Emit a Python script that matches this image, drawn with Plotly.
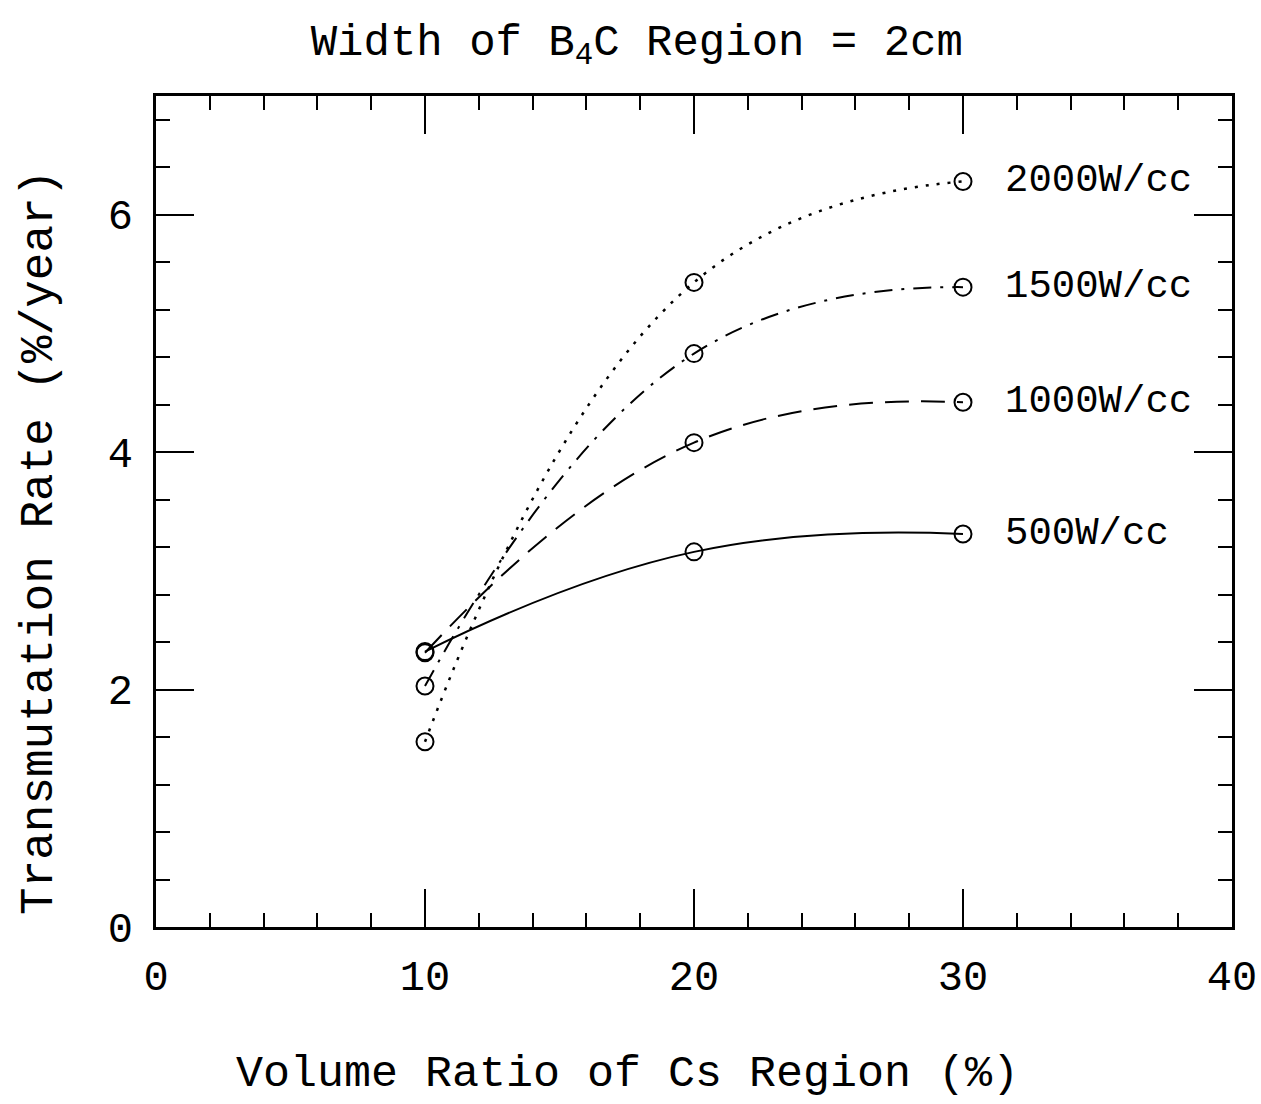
import plotly.graph_objects as go

# Volume ratio of the Cs region (%)
volume_ratio = [10, 20, 30]

# Transmutation rate (%/year) for each power density
rate_500 = [2.32, 3.16, 3.31]
rate_1000 = [2.31, 4.08, 4.42]
rate_1500 = [2.03, 4.83, 5.39]
rate_2000 = [1.56, 5.43, 6.28]

series_labels = ["2000W/cc", "1500W/cc", "1000W/cc", "500W/cc"]
series_values = [rate_2000, rate_1500, rate_1000, rate_500]
series_dash = ["3px,8px", "18px,9px,3px,9px", "24px,12px", "solid"]
series_width = [2.5, 2, 2, 2]

x_ticks = [0, 10, 20, 30, 40]
y_ticks = [0, 2, 4, 6]

FONT = "Liberation Mono"
INK = "black"

fig = go.Figure()

for label, values, dash, lw in zip(series_labels, series_values, series_dash, series_width):
    fig.add_trace(go.Scatter(
        x=volume_ratio, y=values, name=label,
        mode="lines+markers",
        line=dict(color=INK, width=lw, dash=dash, shape="spline", smoothing=1.3),
        marker=dict(symbol="circle-open", size=17, color=INK, line=dict(width=2, color=INK)),
        showlegend=False,
    ))
    fig.add_annotation(
        x=volume_ratio[-1], y=values[-1], text=label,
        xref="x", yref="y", xanchor="left", yanchor="middle",
        xshift=40, showarrow=False,
        font=dict(family=FONT, size=39, color=INK),
    )

axis_common = dict(
    showline=True, linecolor=INK, linewidth=2.5, mirror="allticks",
    ticks="inside", ticklen=38, tickwidth=2, tickcolor=INK,
    showgrid=False, zeroline=False, automargin=False,
    tickfont=dict(family=FONT, size=42, color=INK),
)

fig.update_xaxes(
    **axis_common,
    range=[0, 40], tickvals=x_ticks, ticktext=[str(v) for v in x_ticks],
    minor=dict(ticks="inside", dtick=2, ticklen=14, tickwidth=2, tickcolor=INK),
    ticklabelstandoff=10, ticklabeloverflow="allow",
)
fig.update_yaxes(
    **axis_common,
    range=[0, 7], tickvals=y_ticks, ticktext=[str(v) for v in y_ticks],
    minor=dict(ticks="inside", dtick=0.4, ticklen=14, tickwidth=2, tickcolor=INK),
    ticklabelstandoff=12,
)

# Axis titles placed as paper-anchored annotations
fig.add_annotation(
    text="Volume Ratio of Cs Region (%)", xref="paper", yref="paper",
    x=0.438, y=-0.178, xanchor="center", yanchor="middle", showarrow=False,
    font=dict(family=FONT, size=45, color=INK),
)
fig.add_annotation(
    text="Transmutation Rate (%/year)", xref="paper", yref="paper",
    x=-0.108, y=0.463, xanchor="center", yanchor="middle", showarrow=False,
    textangle=-90,
    font=dict(family=FONT, size=46, color=INK),
)

fig.update_layout(
    width=1261, height=1104,
    margin=dict(l=156, r=29, t=96, b=177, autoexpand=False),
    paper_bgcolor="white", plot_bgcolor="white",
    title=dict(
        text="Width of B<sub>4</sub>C Region = 2cm",
        x=0.505, xanchor="center", y=0.978, yanchor="top",
        font=dict(family=FONT, size=44, color=INK),
    ),
)

fig.write_html("out.html")
